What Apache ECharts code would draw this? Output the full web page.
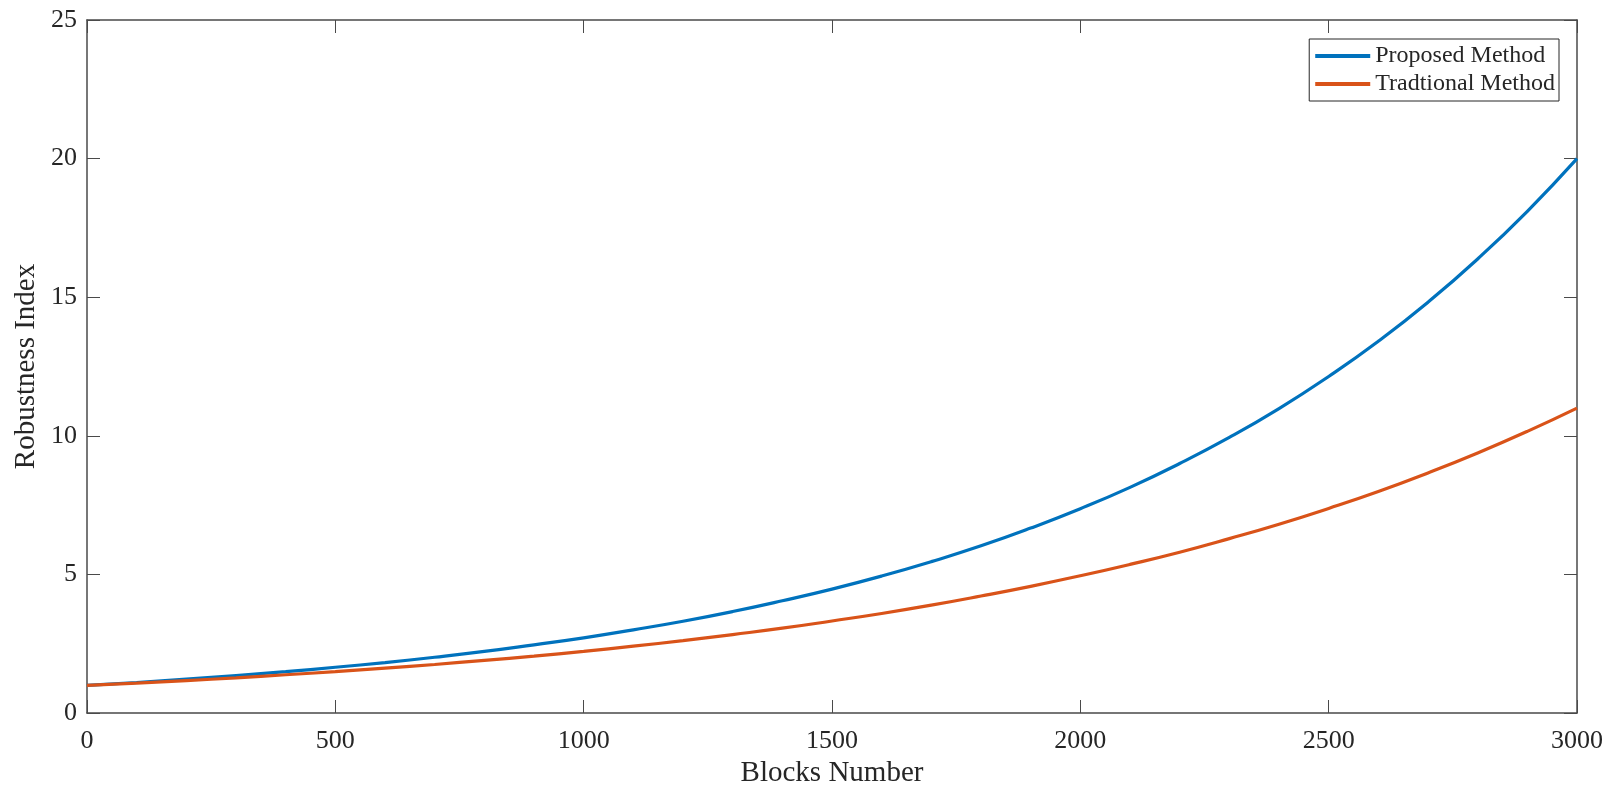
<!DOCTYPE html>
<html>
<head>
<meta charset="utf-8">
<script src="https://cdn.jsdelivr.net/npm/echarts@6/dist/echarts.min.js"></script>
<style>html,body{margin:0;padding:0;background:#fff;}#c{width:1616px;height:795px;}</style>
</head>
<body>
<div id="c"></div>
<script>
var blocks = [0,100,200,300,400,500,600,700,800,900,1000,1100,1200,1300,1400,1500,1600,1700,1800,1900,2000,2100,2200,2300,2400,2500,2600,2700,2800,2900,3000];
var proposed = [1.00,1.10,1.22,1.35,1.49,1.65,1.82,2.01,2.22,2.46,2.71,3.00,3.31,3.66,4.05,4.47,4.94,5.46,6.03,6.67,7.37,8.14,9.00,9.94,10.98,12.14,13.41,14.82,16.38,18.10,20.00];
var traditional = [1.00,1.08,1.17,1.27,1.38,1.49,1.62,1.75,1.90,2.05,2.22,2.41,2.61,2.83,3.06,3.32,3.59,3.89,4.22,4.57,4.95,5.36,5.80,6.29,6.81,7.38,7.99,8.66,9.38,10.16,11.00];
var seriesNames = ['Proposed Method','Tradtional Method'];
var colors = ['#0072BD','#D95319'];

var font = "'Liberation Serif','Times New Roman',serif";
var axisColor = '#4a4a4a';
var textColor = '#262626';
function pairs(v){ return blocks.map(function(b,i){ return [b, v[i]]; }); }
function plain(v){ return String(v); }

var chart = echarts.init(document.getElementById('c'));
chart.setOption({
  animation: false,
  backgroundColor: '#fff',
  grid: {left: 87, right: 39, top: 20, bottom: 82},
  legend: {
    orient: 'vertical', right: 57, top: 39,
    data: seriesNames.map(function(n){ return {name: n, icon: 'rect'}; }),
    itemWidth: 55, itemHeight: 4, itemGap: 4,
    padding: [5, 4, 5, 6],
    borderColor: '#262626', borderWidth: 1,
    backgroundColor: '#fff',
    textStyle: {fontFamily: font, fontSize: 24, color: textColor}
  },
  xAxis: [{
    type: 'value', min: 0, max: 3000, interval: 500,
    name: 'Blocks Number', nameLocation: 'middle', nameGap: 44,
    nameTextStyle: {fontFamily: font, fontSize: 29, color: textColor},
    axisLine: {show: true, onZero: false, lineStyle: {color: axisColor, width: 1.5}},
    axisTick: {show: true, inside: true, length: 13, lineStyle: {color: axisColor}},
    axisLabel: {margin: 15, fontFamily: font, fontSize: 26, color: textColor, formatter: plain},
    splitLine: {show: false}
  },{
    type: 'value', min: 0, max: 3000, interval: 500, position: 'top',
    axisLine: {show: true, onZero: false, lineStyle: {color: axisColor, width: 1.5}},
    axisTick: {show: true, inside: true, length: 13, lineStyle: {color: axisColor}},
    axisLabel: {show: false}, splitLine: {show: false}
  }],
  yAxis: [{
    type: 'value', min: 0, max: 25, interval: 5,
    name: 'Robustness Index', nameLocation: 'middle', nameGap: 46, nameMoveOverlap: false,
    nameTextStyle: {fontFamily: font, fontSize: 29, color: textColor, padding: [12, 0, 0, 0]},
    axisLine: {show: true, onZero: false, lineStyle: {color: axisColor, width: 1.5}},
    axisTick: {show: true, inside: true, length: 13, lineStyle: {color: axisColor}},
    axisLabel: {margin: 10, fontFamily: font, fontSize: 26, color: textColor, formatter: plain},
    splitLine: {show: false}
  },{
    type: 'value', min: 0, max: 25, interval: 5, position: 'right',
    axisLine: {show: true, onZero: false, lineStyle: {color: axisColor, width: 1.5}},
    axisTick: {show: true, inside: true, length: 13, lineStyle: {color: axisColor}},
    axisLabel: {show: false}, splitLine: {show: false}
  }],
  series: [
    {name: seriesNames[0], type: 'line', data: pairs(proposed), smooth: true, showSymbol: false,
     lineStyle: {color: colors[0], width: 3.2}, itemStyle: {color: colors[0]}},
    {name: seriesNames[1], type: 'line', data: pairs(traditional), smooth: true, showSymbol: false,
     lineStyle: {color: colors[1], width: 3.2}, itemStyle: {color: colors[1]}}
  ]
});
</script>
</body>
</html>
